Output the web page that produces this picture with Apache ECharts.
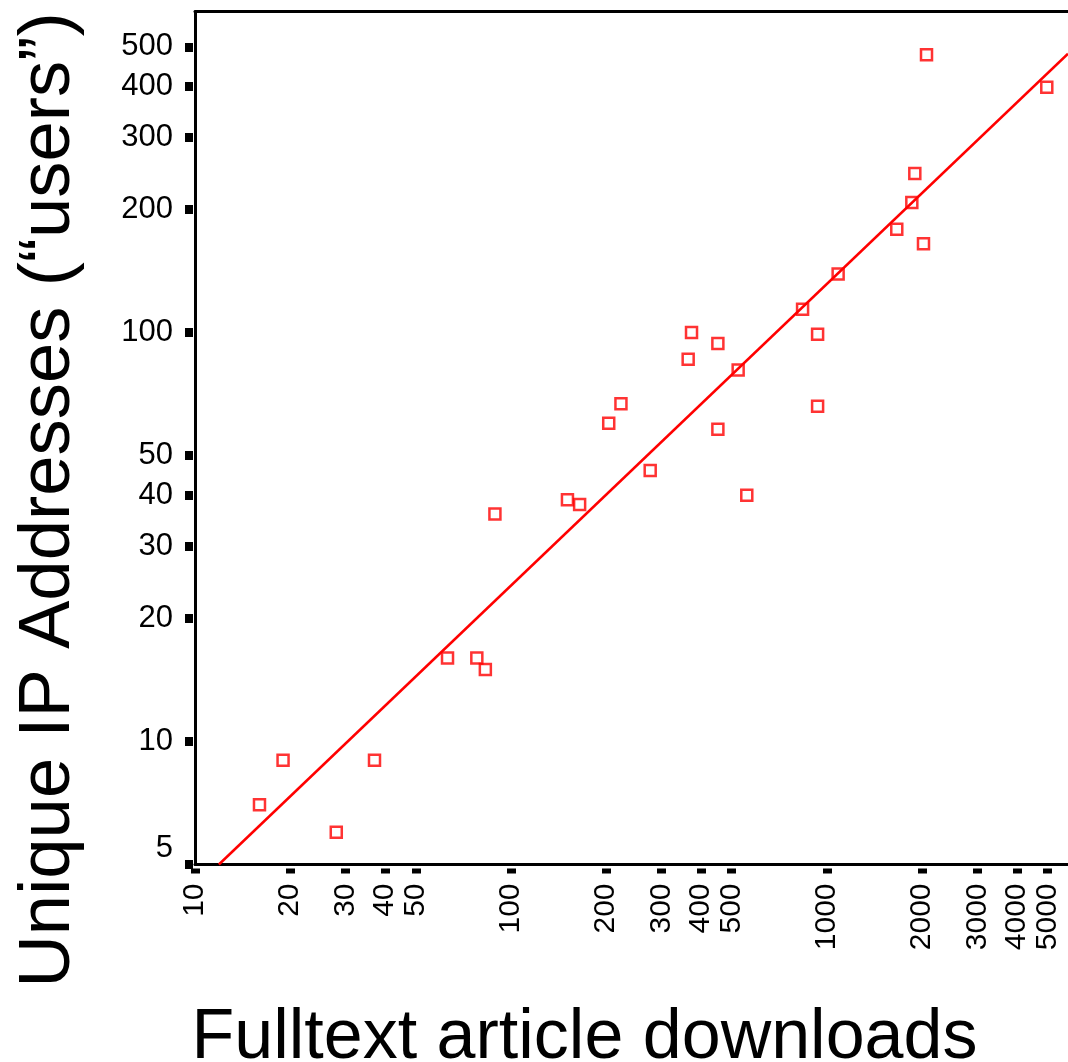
<!DOCTYPE html>
<html>
<head>
<meta charset="utf-8">
<script src="https://cdn.jsdelivr.net/npm/echarts@6/dist/echarts.min.js"></script>
<style>
  html, body { margin: 0; padding: 0; background: #fff; }
  #main { width: 1068px; height: 1062px; }
</style>
</head>
<body>
<div id="main"></div>
<script>
// values
const downloads = [16, 19, 28, 37, 63, 78, 83, 89, 151, 165, 204, 223, 276, 364, 373, 452, 452, 524, 558, 838, 935, 935, 1086, 1665, 1858, 1899, 2023, 2068, 4969];
const users = [7, 9, 6, 9, 16, 16, 15, 36, 39, 38, 60, 67, 46, 86, 100, 94, 58, 81, 40, 114, 99, 66, 139, 179, 208, 245, 165, 478, 398];
// fitted line, end points
const fitX = [11.9, 5800];
const fitY = [5, 481];
const xTicks = [10, 20, 30, 40, 50, 100, 200, 300, 400, 500, 1000, 2000, 3000, 4000, 5000];
const yTicks = [5, 10, 20, 30, 40, 50, 100, 200, 300, 400, 500];

const FONT = 'Liberation Sans';
const X_MIN = 10, X_MAX = 5800, Y_MIN = 5, Y_MAX = 610;

let myChart = echarts.init(document.getElementById('main'));

const lineOnly = { show: true, lineStyle: { color: '#000', width: 3 } };

myChart.setOption({
  animation: false,
  grid: { left: 195, right: 0, top: 11.5, bottom: 197.5, containLabel: false, outerBoundsMode: 'none' },
  xAxis: [
    { // frame line
      type: 'log', min: X_MIN, max: X_MAX, position: 'bottom',
      axisLine: lineOnly, axisTick: { show: false }, axisLabel: { show: false }, splitLine: { show: false }
    },
    { // ticks + labels
      type: 'log', min: X_MIN, max: X_MAX, position: 'bottom', offset: 4,
      axisLine: { show: false },
      axisTick: { show: true, length: 5, customValues: xTicks, lineStyle: { color: '#000', width: 9 } },
      axisLabel: {
        show: true, customValues: xTicks, rotate: 90, margin: 15, fontSize: 30, color: '#000', fontFamily: FONT,
        hideOverlap: false,
        formatter: function (v) { return String(v); }
      },
      splitLine: { show: false },
      name: 'Fulltext article downloads', nameLocation: 'middle', nameGap: 135,
      nameTextStyle: { fontSize: 70, color: '#000', fontFamily: FONT, padding: [0, 94, 0, 0] }
    },
    { // top frame
      type: 'log', min: X_MIN, max: X_MAX, position: 'top',
      axisLine: lineOnly, axisTick: { show: false }, axisLabel: { show: false }, splitLine: { show: false }
    }
  ],
  yAxis: [
    {
      type: 'log', min: Y_MIN, max: Y_MAX, position: 'left',
      axisLine: lineOnly, axisTick: { show: false }, axisLabel: { show: false }, splitLine: { show: false }
    },
    {
      type: 'log', min: Y_MIN, max: Y_MAX, position: 'left', offset: 2,
      axisLine: { show: false },
      axisTick: { show: true, length: 8, customValues: yTicks, lineStyle: { color: '#000', width: 9 } },
      axisLabel: {
        show: true, customValues: yTicks, margin: 20, fontSize: 31, color: '#000', fontFamily: FONT,
        hideOverlap: false,
        formatter: function (v) { return v === 5 ? '{low|5}' : String(v); },
        rich: { low: { fontSize: 31, fontFamily: FONT, color: '#000', padding: [0, 0, 32, 0] } }
      },
      splitLine: { show: false },
      name: 'Unique IP Addresses (\u201cusers\u201d)', nameLocation: 'middle', nameGap: 108,
      nameTextStyle: { fontSize: 72.5, color: '#000', fontFamily: FONT, padding: [0, 124, 0, 0] }
    }
  ],
  series: [
    {
      type: 'scatter',
      xAxisIndex: 0, yAxisIndex: 0,
      symbol: 'rect', symbolSize: 11,
      itemStyle: { color: 'transparent', borderColor: '#ff0000', borderWidth: 2.5 },
      data: downloads.map((d, i) => [d, users[i]])
    },
    {
      type: 'line',
      xAxisIndex: 0, yAxisIndex: 0,
      symbol: 'none', silent: true,
      lineStyle: { color: '#ff0000', width: 2.5 },
      data: fitX.map((d, i) => [d, fitY[i]])
    }
  ]
});

window.onresize = function () {
  myChart.resize();
};
</script>
</body>
</html>
